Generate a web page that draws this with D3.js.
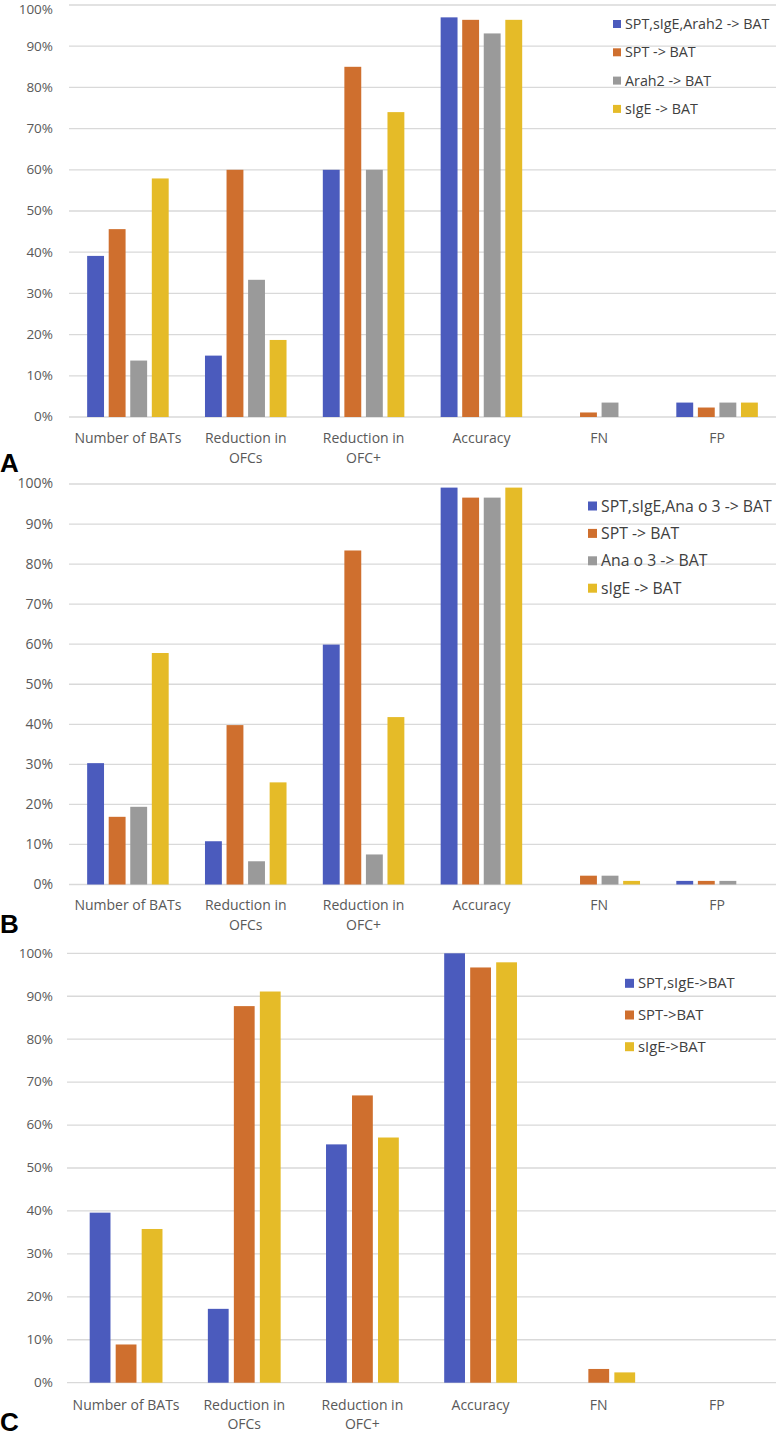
<!DOCTYPE html>
<html><head><meta charset="utf-8">
<script src="https://cdn.jsdelivr.net/npm/d3@7"></script>
<style>html,body{margin:0;padding:0;background:#fff}svg{display:block}</style>
</head><body>
<svg id="chart" width="778" height="1439"></svg>
<script>
// ---------- data ----------
const categories = ["Number of BATs", "Reduction in OFCs", "Reduction in OFC+", "Accuracy", "FN", "FP"];
const yTicks = [0, 10, 20, 30, 40, 50, 60, 70, 80, 90, 100];

const seriesA = ["SPT,sIgE,Arah2 -> BAT", "SPT -> BAT", "Arah2 -> BAT", "sIgE -> BAT"];
const valuesA_combined = [39.1, 14.9, 60.0, 97.0, 0.0, 3.5];
const valuesA_spt      = [45.6, 60.0, 85.0, 96.4, 1.1, 2.3];
const valuesA_arah2    = [13.7, 33.3, 60.0, 93.1, 3.5, 3.5];
const valuesA_sige     = [57.9, 18.7, 74.0, 96.4, 0.0, 3.5];

const seriesB = ["SPT,sIgE,Ana o 3 -> BAT", "SPT -> BAT", "Ana o 3 -> BAT", "sIgE -> BAT"];
const valuesB_combined = [30.3, 10.8, 59.9, 99.1, 0.0, 0.9];
const valuesB_spt      = [16.9, 39.8, 83.4, 96.6, 2.2, 0.9];
const valuesB_anao3    = [19.4, 5.8, 7.5, 96.6, 2.2, 0.9];
const valuesB_sige     = [57.8, 25.5, 41.8, 99.1, 0.9, 0.0];

const seriesC = ["SPT,sIgE->BAT", "SPT->BAT", "sIgE->BAT"];
const valuesC_combined = [39.6, 17.2, 55.5, 100.0, 0.0, 0.0];
const valuesC_spt      = [8.9, 87.7, 66.9, 96.7, 3.2, 0.0];
const valuesC_sige     = [35.8, 91.1, 57.1, 97.9, 2.4, 0.0];

const colors4 = ["#4B5BBD", "#CF6F2E", "#9A9A9A", "#E5BB28"];
const colors3 = ["#4B5BBD", "#CF6F2E", "#E5BB28"];

// ---------- layout ----------
const panels = [
  { letter: "A", series: seriesA, values: [valuesA_combined, valuesA_spt, valuesA_arah2, valuesA_sige], colors: colors4,
    top: 5, bottom: 417, x0: 69, x1: 776, outerPad: 0.308, innerPad: 0.217,
    tickFont: 13.5, catFont: 14, catY: 438, catDy: 20, letterY: 472,
    legX: 613, legY: 24, legDy: 28.3, legFont: 14.3, legBox: 8 },
  { letter: "B", series: seriesB, values: [valuesB_combined, valuesB_spt, valuesB_anao3, valuesB_sige], colors: colors4,
    top: 484, bottom: 884.5, x0: 69, x1: 776, outerPad: 0.308, innerPad: 0.217,
    tickFont: 14, catFont: 14, catY: 905, catDy: 20, letterY: 933,
    legX: 588, legY: 506, legDy: 27.4, legFont: 15.8, legBox: 9 },
  { letter: "C", series: seriesC, values: [valuesC_combined, valuesC_spt, valuesC_sige], colors: colors3,
    top: 953.3, bottom: 1382.7, x0: 67, x1: 776, outerPad: 0.384, innerPad: 0.2,
    tickFont: 13.5, catFont: 14, catY: 1405, catDy: 19.5, letterY: 1431,
    legX: 625, legY: 983.3, legDy: 31.7, legFont: 14.8, legBox: 9 }
];

const svg = d3.select("#chart");
const FONT = "'Open Sans', Lato, sans-serif";
const textColor = "#595959";

panels.forEach(p => {
  const g = svg.append("g");
  const y = d3.scaleLinear().domain([0, 100]).range([p.bottom, p.top]);
  const x = d3.scaleBand().domain(categories).range([p.x0, p.x1])
    .paddingInner(p.outerPad).paddingOuter(p.outerPad / 2);
  const xs = d3.scaleBand().domain(p.series).range([0, x.bandwidth()])
    .paddingInner(p.innerPad).paddingOuter(0);

  // gridlines
  g.append("g").selectAll("line").data(yTicks).join("line")
    .attr("x1", p.x0).attr("x2", p.x1)
    .attr("y1", d => y(d)).attr("y2", d => y(d))
    .attr("stroke", "#d9d9d9").attr("stroke-width", 1.3);

  // y axis labels
  const yAxis = d3.axisLeft(y).tickValues(yTicks).tickFormat(d => d + "%").tickSize(0).tickPadding(0);
  const ya = g.append("g").attr("transform", `translate(${53},0)`).call(yAxis);
  ya.select(".domain").remove();
  ya.selectAll(".tick").attr("transform", d => `translate(0,${Math.max(y(d), 9.5)})`);
  ya.selectAll("text").attr("font-family", FONT).attr("font-size", p.tickFont).attr("fill", textColor);

  // bars
  p.series.forEach((s, si) => {
    g.append("g").selectAll("rect").data(p.values[si]).join("rect")
      .attr("x", (d, i) => x(categories[i]) + xs(s))
      .attr("width", xs.bandwidth())
      .attr("y", d => y(d))
      .attr("height", d => y(0) - y(d))
      .attr("fill", p.colors[si]);
  });

  // category labels (wrapped)
  const wraps = { "Reduction in OFCs": ["Reduction in", "OFCs"], "Reduction in OFC+": ["Reduction in", "OFC+"] };
  categories.forEach(c => {
    const lines = wraps[c] || [c];
    const t = g.append("text").attr("text-anchor", "middle")
      .attr("font-family", FONT).attr("font-size", p.catFont).attr("fill", textColor);
    lines.forEach((ln, li) => {
      t.append("tspan").attr("x", x(c) + x.bandwidth() / 2)
        .attr("y", p.catY + li * p.catDy).attr("dy", "0.35em").text(ln);
    });
  });

  // legend
  p.series.forEach((s, si) => {
    const ly = p.legY + si * p.legDy;
    g.append("rect").attr("x", p.legX).attr("y", ly - p.legBox / 2)
      .attr("width", p.legBox).attr("height", p.legBox).attr("fill", p.colors[si]);
    g.append("text").attr("x", p.legX + p.legBox + 4).attr("y", ly).attr("dy", "0.35em")
      .attr("font-family", FONT).attr("font-size", p.legFont).attr("fill", "#404040").text(s);
  });

  // panel letter
  g.append("text").attr("x", 0).attr("y", p.letterY)
    .attr("font-family", "'Liberation Sans', Arial, sans-serif").attr("font-weight", "bold")
    .attr("font-size", 26).attr("fill", "#000").text(p.letter);
});
</script>
</body></html>
